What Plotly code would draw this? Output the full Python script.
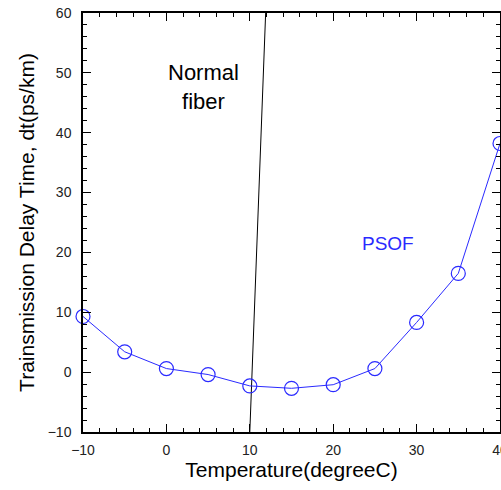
import plotly.graph_objects as go

temps = [-10, -5, 0, 5, 10, 15, 20, 25, 30, 35, 40]
psof_delay = [9.3, 3.4, 0.6, -0.4, -2.3, -2.7, -2.1, 0.6, 8.3, 16.5, 38.2]
normal_x = [10.0, 11.9]
normal_y = [-10, 60]

fig = go.Figure()
fig.add_trace(go.Scatter(x=normal_x, y=normal_y, mode="lines",
                         line=dict(color="black", width=1), showlegend=False))
fig.add_trace(go.Scatter(x=temps, y=psof_delay, mode="lines+markers",
                         line=dict(color="#2a2aff", width=1),
                         marker=dict(symbol="circle-open", size=14, color="#2a2aff",
                                     line=dict(width=1.2, color="#2a2aff")),
                         showlegend=False, cliponaxis=False))

font = "Liberation Sans, Arial, Helvetica, sans-serif"
axis_common = dict(showgrid=False, zeroline=False, showline=True, linecolor="black",
                   linewidth=1.5, mirror="allticks", ticks="inside", ticklen=8,
                   tickwidth=1.2, tickcolor="black", automargin=False,
                   ticklabeloverflow="allow",
                   tickfont=dict(family=font, size=14, color="#222"))
fig.update_xaxes(range=[-10, 40], dtick=10, tick0=-10, ticklabelstandoff=4,
                 minor=dict(dtick=2, ticks="inside", ticklen=4, tickcolor="black", tickwidth=1),
                 title=dict(text="Temperature(degreeC)", font=dict(family=font, size=21, color="black"),
                            standoff=6),
                 **axis_common)
fig.update_yaxes(range=[-10, 60], dtick=10, tick0=-10, ticklabelstandoff=7,
                 minor=dict(dtick=2, ticks="inside", ticklen=4, tickcolor="black", tickwidth=1),
                 title=dict(text="Trainsmission Delay Time, dt(ps/km)",
                            font=dict(family=font, size=21, color="black"), standoff=7),
                 **axis_common)

fig.add_annotation(x=4.4, y=47.7, text="Normal<br>fiber", showarrow=False,
                   font=dict(family=font, size=22, color="black"), align="center")
fig.add_annotation(x=26.6, y=21.5, text="PSOF", showarrow=False,
                   font=dict(family=font, size=19, color="#2a2aff"))

fig.update_layout(width=501, height=490, margin=dict(l=83, r=1, t=13, b=58),
                  plot_bgcolor="white", paper_bgcolor="white")
fig.write_html("out.html", config={"displayModeBar": False})

with open("out.html", encoding="utf-8") as f:
    html = f.read()
html = html.replace("<body>", '<body style="margin:0;padding:0;overflow:hidden">', 1)
with open("out.html", "w", encoding="utf-8") as f:
    f.write(html)
